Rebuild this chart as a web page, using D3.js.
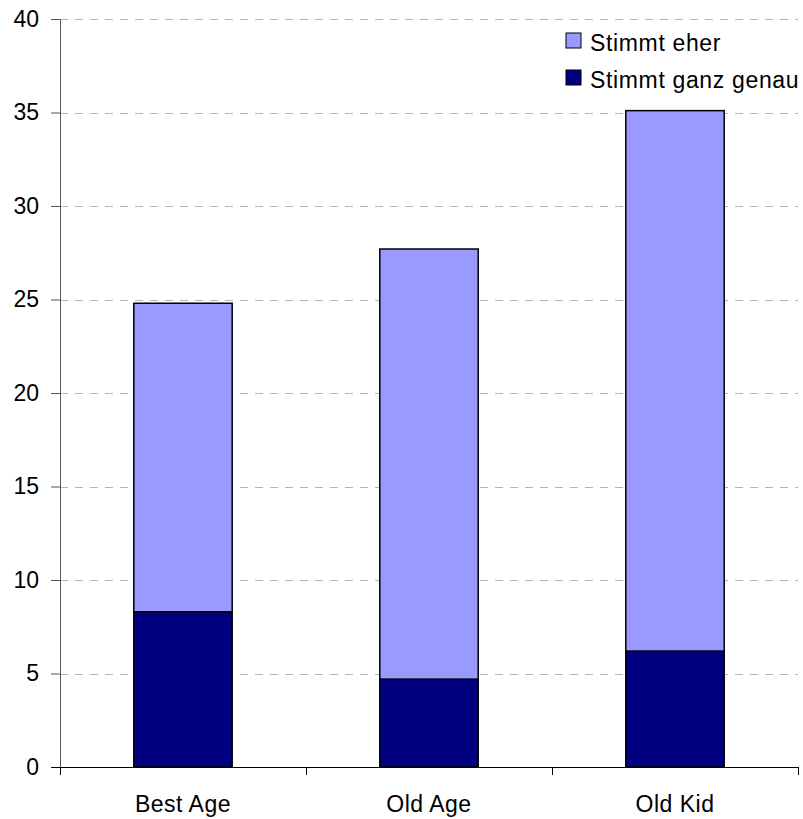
<!DOCTYPE html>
<html>
<head>
<meta charset="utf-8">
<script src="https://cdn.jsdelivr.net/npm/d3@7"></script>
<style>
  html, body { margin: 0; padding: 0; background: #fff; }
  svg { display: block; font-family: Arial, "Liberation Sans", sans-serif; }
</style>
</head>
<body>
<svg id="chart" width="803" height="819"></svg>
<script>
// Survey answers per group (percent)
const categories = ["Best Age", "Old Age", "Old Kid"];
const seriesNames = ["Stimmt ganz genau", "Stimmt eher"];
const ganzGenau = [8.3, 4.7, 6.2];
const eher = [16.5, 23.0, 28.9];
const yTicks = [0, 5, 10, 15, 20, 25, 30, 35, 40];
const colors = { "Stimmt ganz genau": "#000080", "Stimmt eher": "#9999ff" };

const rows = categories.map((c, i) => ({
  category: c,
  "Stimmt ganz genau": ganzGenau[i],
  "Stimmt eher": eher[i]
}));

const svg = d3.select("#chart");
const plotLeft = 60, plotRight = 798, plotTop = 19, plotBottom = 767;

const x = d3.scaleBand().domain(categories).range([plotLeft, plotRight])
  .paddingInner(0.6).paddingOuter(0.3);
const y = d3.scaleLinear().domain([0, 40]).range([plotBottom, plotTop]);

// dashed horizontal gridlines
svg.append("g").selectAll("line")
  .data(yTicks.filter(d => d > 0))
  .join("line")
  .attr("x1", plotLeft).attr("x2", plotRight)
  .attr("y1", d => Math.round(y(d)) + 0.5).attr("y2", d => Math.round(y(d)) + 0.5)
  .attr("stroke", "#b4b4b4").attr("stroke-width", 1)
  .attr("stroke-dasharray", "8 7");

// stacked bars
const stack = d3.stack().keys(seriesNames)(rows);
svg.append("g").selectAll("g")
  .data(stack)
  .join("g")
  .attr("fill", d => colors[d.key])
  .selectAll("rect")
  .data(d => d)
  .join("rect")
  .attr("x", d => x(d.data.category))
  .attr("width", x.bandwidth())
  .attr("y", d => y(d[1]))
  .attr("height", d => y(d[0]) - y(d[1]))
  .attr("stroke", "#000").attr("stroke-width", 1.5);

// y axis
const yAxis = svg.append("g")
  .attr("transform", `translate(${plotLeft},0)`)
  .call(d3.axisLeft(y).tickValues(yTicks).tickSize(9).tickPadding(12));
yAxis.select(".domain").attr("stroke", "#555");
yAxis.selectAll(".tick line").attr("stroke", "#555");
yAxis.selectAll("text").attr("font-size", 23).attr("fill", "#000")
  .attr("font-family", "Arial, 'Liberation Sans', sans-serif");

// x axis with ticks at category boundaries
const xAxisG = svg.append("g");
xAxisG.append("line")
  .attr("x1", plotLeft - 9).attr("x2", plotRight)
  .attr("y1", plotBottom + 0.5).attr("y2", plotBottom + 0.5)
  .attr("stroke", "#000");
const edgeX = [plotLeft].concat(categories.map(c => x(c) + x.bandwidth() + x.step() * 0.3));
xAxisG.selectAll("line.tk")
  .data(edgeX)
  .join("line").attr("class", "tk")
  .attr("x1", d => Math.round(d) + 0.5).attr("x2", d => Math.round(d) + 0.5)
  .attr("y1", plotBottom).attr("y2", plotBottom + 8)
  .attr("stroke", "#000");
xAxisG.selectAll("text")
  .data(categories)
  .join("text")
  .attr("x", d => x(d) + x.bandwidth() / 2)
  .attr("y", 812)
  .attr("text-anchor", "middle")
  .attr("font-size", 23)
  .attr("letter-spacing", 0.5)
  .text(d => d);

// legend
const legend = svg.append("g").attr("transform", "translate(566,33)");
const legendItems = ["Stimmt eher", "Stimmt ganz genau"];
const li = legend.selectAll("g").data(legendItems).join("g")
  .attr("transform", (d, i) => `translate(0,${i * 37})`);
li.append("rect")
  .attr("width", 15).attr("height", 15)
  .attr("fill", d => colors[d])
  .attr("stroke", "#000").attr("stroke-width", 1);
li.append("text")
  .attr("x", 24).attr("y", 17.5)
  .attr("font-size", 23)
  .attr("letter-spacing", 0.65)
  .text(d => d);
</script>
</body>
</html>
